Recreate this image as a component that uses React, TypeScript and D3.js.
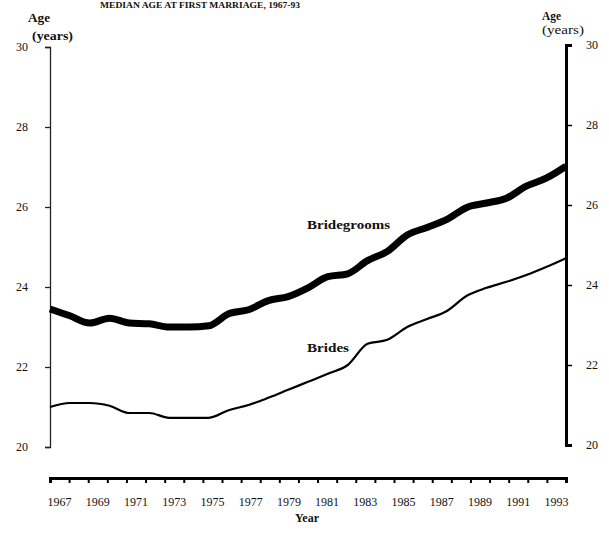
import React, { useRef, useEffect } from "react";
import * as d3 from "d3";

const years = d3.range(1967, 1994);
const bridegrooms = [
  23.45, 23.28, 23.1, 23.22, 23.1, 23.08, 23.0, 23.0, 23.03, 23.33, 23.43, 23.66, 23.76, 23.98,
  24.26, 24.33, 24.66, 24.89, 25.3, 25.49, 25.69, 25.99, 26.1, 26.22, 26.52, 26.72, 27.02,
];
const brides = [
  21.0, 21.1, 21.1, 21.03, 20.85, 20.85, 20.73, 20.73, 20.73, 20.92, 21.05, 21.23, 21.43, 21.63,
  21.83, 22.05, 22.58, 22.68, 23.0, 23.2, 23.4, 23.78, 23.98, 24.13, 24.3, 24.5, 24.72,
];
const ageTicks = [20, 22, 24, 26, 28, 30];
const yearLabels = years.filter((y) => y % 2 === 1);

const width = 609;
const height = 533;
const left = 50;
const right = 566;
const font = "'Liberation Serif', 'Times New Roman', serif";

const App = () => {
  const ref = useRef<SVGSVGElement>(null);

  useEffect(() => {
    const svg = d3.select(ref.current);
    svg.selectAll("*").remove();

    const y = d3.scaleLinear().domain([20, 30]).range([447, 47]);
    const xLine = d3.scaleLinear().domain([1967, 1993]).range([left, right]);
    const xEdge = d3.scaleLinear().domain([1967, 1994]).range([left, right]);

    const g = svg.append("g").attr("font-family", font).attr("fill", "#111");

    // faint title at the very top of the scan
    g.append("text")
      .attr("x", 100)
      .attr("y", 8)
      .attr("font-size", 8)
      .attr("font-weight", "bold")
      .attr("textLength", 200)
      .attr("lengthAdjust", "spacingAndGlyphs")
      .text("MEDIAN AGE AT FIRST MARRIAGE, 1967-93");

    // left axis
    const leftAxis = g.append("g").attr("transform", `translate(${left},0)`)
      .call(d3.axisLeft(y).tickValues(ageTicks).tickSize(5).tickPadding(17).tickFormat(d3.format("d")));
    leftAxis.select(".domain").attr("stroke", "#222").attr("stroke-width", 1.3);
    leftAxis.selectAll(".tick line").attr("stroke", "#222").attr("stroke-width", 1.3);
    leftAxis.selectAll(".tick text").attr("font-size", 12).attr("font-family", font).attr("fill", "#111");

    // right axis
    const rightAxis = g.append("g").attr("transform", `translate(${right},-2)`)
      .call(d3.axisRight(y).tickValues(ageTicks).tickSize(6).tickPadding(14).tickFormat(d3.format("d")));
    rightAxis.select(".domain").attr("stroke", "#000").attr("stroke-width", 3);
    rightAxis.selectAll(".tick line").attr("stroke", "#000").attr("stroke-width", 1.5);
    rightAxis.selectAll(".tick text").attr("font-size", 12).attr("font-family", font).attr("fill", "#111");

    // axis titles
    const titles = [
      { x: 28, t: "Age", yy: 22, w: 22, bold: true },
      { x: 32, t: "(years)", yy: 40, w: 41, bold: true },
      { x: 542, t: "Age", yy: 20, w: 19, bold: true },
      { x: 542, t: "(years)", yy: 34, w: 42, bold: false },
    ];
    g.selectAll(".ttl")
      .data(titles)
      .enter()
      .append("text")
      .attr("class", "ttl")
      .attr("x", (d) => d.x)
      .attr("y", (d) => d.yy)
      .attr("font-size", 12)
      .attr("font-weight", (d) => (d.bold ? "bold" : "normal"))
      .attr("textLength", (d) => d.w)
      .attr("lengthAdjust", "spacingAndGlyphs")
      .text((d) => d.t);

    // bottom year bar
    const xAxis = g.append("g").attr("transform", "translate(0,478)")
      .call(d3.axisBottom(xEdge).tickValues(d3.range(1967, 1995)).tickSize(5).tickFormat(() => ""));
    xAxis.select(".domain").attr("stroke", "#000").attr("stroke-width", 3);
    xAxis.selectAll(".tick line").attr("stroke", "#000").attr("stroke-width", 2);

    g.selectAll(".yr")
      .data(yearLabels)
      .enter()
      .append("text")
      .attr("class", "yr")
      .attr("x", (d) => xEdge(d + 0.5))
      .attr("y", 506)
      .attr("text-anchor", "middle")
      .attr("font-size", 12)
      .text((d) => d);

    g.append("text")
      .attr("x", 307)
      .attr("y", 522)
      .attr("text-anchor", "middle")
      .attr("font-size", 12)
      .attr("font-weight", "bold")
      .text("Year");

    // series
    const line = d3.line<number>()
      .x((_, i) => xLine(years[i]))
      .y((d) => y(d))
      .curve(d3.curveMonotoneX);

    g.append("path")
      .datum(brides)
      .attr("fill", "none")
      .attr("stroke", "#000")
      .attr("stroke-width", 2.2)
      .attr("d", line);

    g.append("path")
      .datum(bridegrooms)
      .attr("fill", "none")
      .attr("stroke", "#000")
      .attr("stroke-width", 7)
      .attr("stroke-linejoin", "round")
      .attr("d", line);

    g.append("text")
      .attr("x", 307)
      .attr("y", 229)
      .attr("font-size", 13)
      .attr("font-weight", "bold")
      .attr("textLength", 83)
      .attr("lengthAdjust", "spacingAndGlyphs")
      .text("Bridegrooms");

    g.append("text")
      .attr("x", 307)
      .attr("y", 352)
      .attr("font-size", 13)
      .attr("font-weight", "bold")
      .attr("textLength", 42)
      .attr("lengthAdjust", "spacingAndGlyphs")
      .text("Brides");
  }, []);

  return (
    <svg
      ref={ref}
      width={width}
      height={height}
      style={{ position: "absolute", left: 0, top: 0, background: "#fff" }}
    />
  );
};

export default App;
